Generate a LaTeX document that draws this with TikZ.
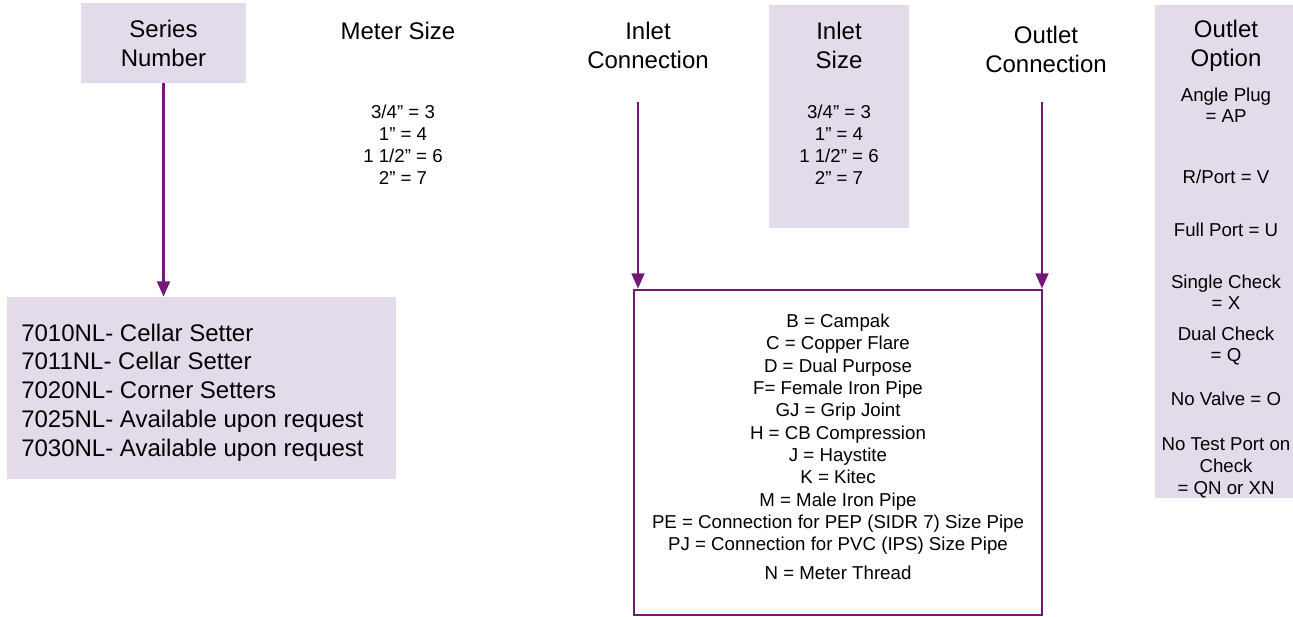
\documentclass[tikz,border=0pt]{standalone}
\usepackage{fontspec}
\setmainfont{Liberation Sans}
\usetikzlibrary{arrows.meta}
\definecolor{lilac}{RGB}{227,219,233}
\definecolor{plum}{RGB}{118,24,122}
\newlength\px
\setlength\px{0.75pt}
\begin{document}
\begin{tikzpicture}[x=0.75pt,y=-0.75pt,
  head/.style={align=center,inner sep=0pt,font=\fontsize{18}{21.75}\selectfont},
  val/.style={align=center,inner sep=0pt,font=\fontsize{14}{16.5}\selectfont},
  opt/.style={align=center,inner sep=0pt,font=\fontsize{14}{15.5}\selectfont},
  optlong/.style={align=center,inner sep=0pt,font=\fontsize{14}{16.5}\selectfont},
  fillbox/.style={fill=lilac,draw=none,inner sep=0pt},
  conn/.style={draw=plum,line width=2.1pt,-{Triangle[width=9.5pt,length=11.5pt]}}]
\useasboundingbox (0,0) rectangle (1293,617);
% Series number
\node[fillbox,minimum width=165\px,minimum height=80\px] (series) at (163.5,43) {};
\node[head] (serieslbl) at (163.5,43) {Series\\Number};
% Meter size
\node[head] (meter) at (398,31) {Meter Size};
\node[val] (metervals) at (403,145) {3/4” = 3\\1” = 4\\1 1/2” = 6\\2” = 7};
% Inlet connection
\node[head] (inletconn) at (648,45.5) {Inlet\\Connection};
% Inlet size
\node[fillbox,minimum width=140\px,minimum height=223\px] (inletsize) at (839,116.5) {};
\node[head] (inletsizelbl) at (839,45.5) {Inlet\\Size};
\node[val] (inletvals) at (839,145) {3/4” = 3\\1” = 4\\1 1/2” = 6\\2” = 7};
% Outlet connection
\node[head] (outletconn) at (1046,49) {Outlet\\Connection};
% Outlet option
\node[fillbox,minimum width=142\px,minimum height=493\px] (option) at (1226,251.5) {};
\node[head] (optionlbl) at (1226,46) {Outlet\\Option};
\node[opt] (o1) at (1226,105) {Angle Plug\\= AP};
\node[opt] (o2) at (1226,177) {R/Port = V};
\node[opt] (o3) at (1226,230) {Full Port = U};
\node[opt] (o4) at (1226,292) {Single Check\\= X};
\node[opt] (o5) at (1226,346) {Dual Check\\= Q};
\node[opt] (o6) at (1226,399) {No Valve = O};
\node[optlong] (o7) at (1226,468) {No Test Port on\\Check\\= QN or XN};
% Series list
\node[fillbox,minimum width=389\px,minimum height=182\px] (list) at (201.5,388) {};
\node[align=left,inner sep=0pt,anchor=west,font=\fontsize{18}{21.6}\selectfont] (listtxt) at (21,392.5)
  {7010NL- Cellar Setter\\7011NL- Cellar Setter\\7020NL- Corner Setters\\7025NL- Available upon request\\7030NL- Available upon request};
% Connection box
\node[draw=plum,line width=2pt,fill=white,minimum width=408\px,minimum height=325\px,inner sep=0pt] (connbox) at (838,452.5) {};
\node[val,font=\fontsize{14}{16.75}\selectfont] (conntxt) at (838,434.5)
  {B = Campak\\C = Copper Flare\\D = Dual Purpose\\F= Female Iron Pipe\\GJ = Grip Joint\\H = CB Compression\\J = Haystite\\K = Kitec\\M = Male Iron Pipe\\PE = Connection for PEP (SIDR 7) Size Pipe\\PJ = Connection for PVC (IPS) Size Pipe};
\node[val] (nthread) at (838,573) {N = Meter Thread};
% Connectors
\coordinate (ia) at (638,102);
\coordinate (oa) at (1042,102);
\draw[conn] (series.south) -- (series.south |- list.north);
\draw[conn] (ia) -- (ia |- connbox.north);
\draw[conn] (oa) -- (oa |- connbox.north);
\end{tikzpicture}
\end{document}
